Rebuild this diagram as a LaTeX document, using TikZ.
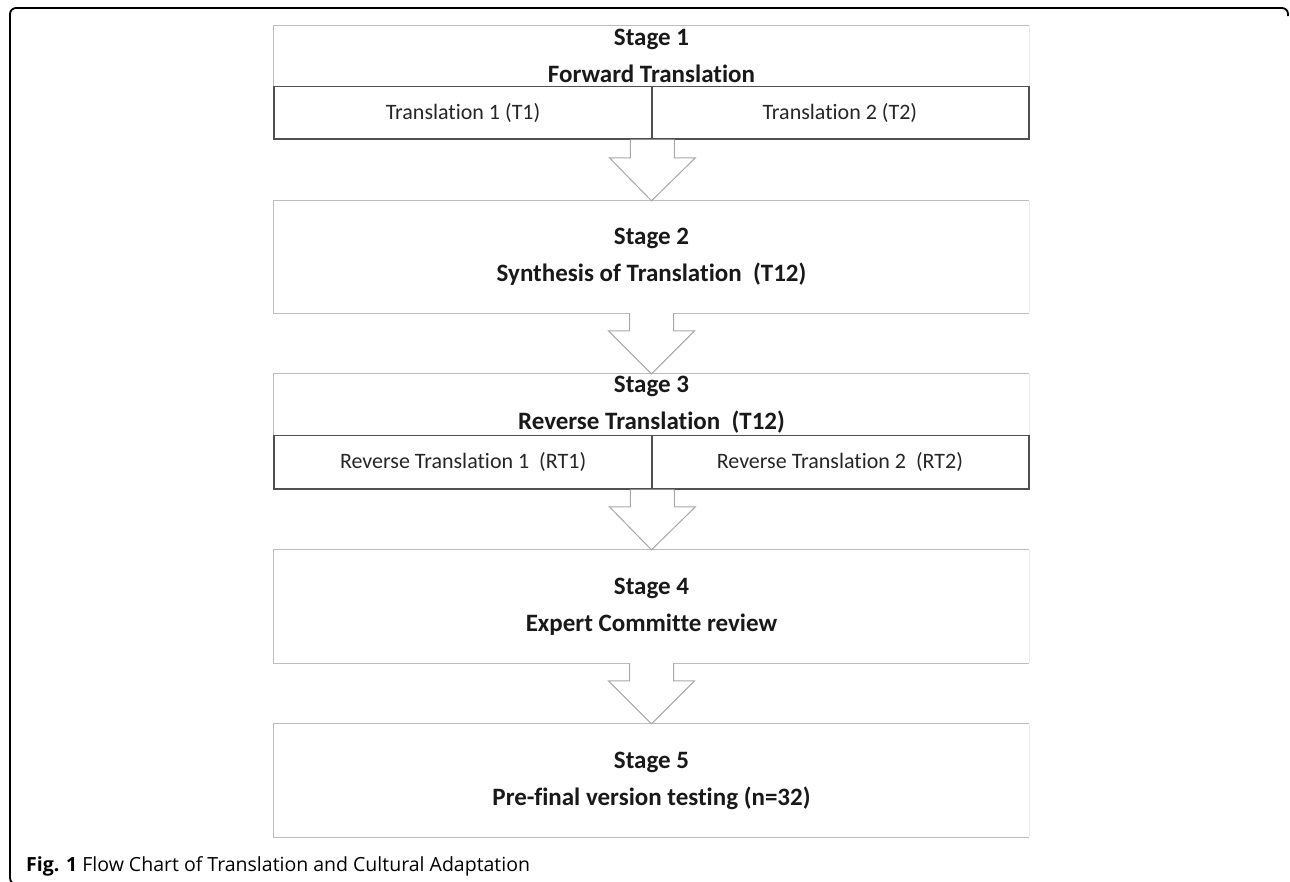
\documentclass[tikz,border=0pt]{standalone}
\usepackage{fontspec}
\setmainfont[Ligatures=NoCommon]{Carlito}
\newfontfamily\capfont{Open Sans}
\usetikzlibrary{calc}
\definecolor{boxline}{HTML}{BDBDBD}
\definecolor{arrowline}{HTML}{A8A8A8}
\definecolor{subline}{HTML}{505050}
\tikzset{
  stagebox/.style={draw=none, minimum width=755pt, inner sep=0pt, align=center,
    font=\fontsize{25}{37}\selectfont\bfseries, text=black!90},
  subbox/.style={draw=subline, line width=1.1pt, minimum width=377.5pt, minimum height=52pt,
    inner sep=0pt, font=\fontsize{22}{26}\selectfont, text=black!85},
  frameline/.style={line width=1.8pt, black, rounded corners=6pt},
}
\newcommand{\stageedges}[1]{%
  \draw[boxline, line width=1.1pt] (#1.north east) -- (#1.north west) -- (#1.south west) -- (#1.south east);
  \draw[black!8, line width=0.8pt] (#1.north east) -- (#1.south east);
}
\newcommand{\blockarr}[2]{%
  \draw[arrowline, line width=1pt, fill=white, line join=miter]
    let \p1=(#1.south), \p2=(#2.north) in
    (\x1-22pt,\y1) -- (\x1-22pt,\y2+43pt) -- (\x1-43pt,\y2+43pt) -- (\x2,\y2)
    -- (\x1+43pt,\y2+43pt) -- (\x1+22pt,\y2+43pt) -- (\x1+22pt,\y1);
}
\begin{document}
\begin{tikzpicture}[x=1pt,y=-1pt]
\useasboundingbox (0,0) rectangle (1290,881);
\fill[white] (0,0) rectangle (1290,881);
% frame
\coordinate (fbl) at (20,884);
\coordinate (fbc) at (10,884);
\coordinate (ftl) at (10,8);
\coordinate (ftr) at (1288,8);
\coordinate (fre) at (1288,16);
\draw[frameline] (fbl) -- (fbc) -- (ftl) -- (ftr) -- (fre);

% Stage 1
\node[stagebox, minimum height=60pt] (s1) at (651.5,56) {Stage 1\\Forward Translation};
\node[subbox, anchor=north west] (t1) at (s1.south west) {Translation 1 (T1)};
\node[subbox, anchor=north east] (t2) at (s1.south east) {Translation 2 (T2)};
% Stage 2
\node[stagebox, minimum height=112pt] (s2) at (651.5,257) {Stage 2\\Synthesis of Translation\ \ (T12)};
% Stage 3
\node[stagebox, minimum height=61pt] (s3) at (651.5,404.5) {Stage 3\\Reverse Translation\ \ (T12)};
\node[subbox, minimum height=53pt, anchor=north west] (rt1) at (s3.south west) {Reverse Translation 1\ \ (RT1)};
\node[subbox, minimum height=53pt, anchor=north east] (rt2) at (s3.south east) {Reverse Translation 2\ \ (RT2)};
% Stage 4
\node[stagebox, minimum height=113pt] (s4) at (651.5,606.5) {Stage 4\\Expert Committe review};
% Stage 5
\node[stagebox, minimum height=113pt] (s5) at (651.5,780.5) {Stage 5\\Pre-final version testing (n=32)};

\stageedges{s1}
\stageedges{s2}
\stageedges{s3}
\stageedges{s4}
\stageedges{s5}

% redraw subboxes on top
\draw[subline, line width=1.1pt] (t1.north west) rectangle (t2.south east);
\draw[subline, line width=1.1pt] (t1.north east) -- (t1.south east);
\draw[subline, line width=1.1pt] (rt1.north west) rectangle (rt2.south east);
\draw[subline, line width=1.1pt] (rt1.north east) -- (rt1.south east);

\node[inner sep=0pt, minimum size=0pt] (sub1) at (t1.south east) {};
\node[inner sep=0pt, minimum size=0pt] (sub3) at (rt1.south east) {};

\blockarr{sub1}{s2}
\blockarr{s2}{s3}
\blockarr{sub3}{s4}
\blockarr{s4}{s5}

% caption
\node[anchor=base west, inner sep=0pt, font=\capfont\fontsize{19.5}{23}\selectfont] (cap) at (26,871)
  {\textbf{Fig. 1} Flow Chart of Translation and Cultural Adaptation};
\end{tikzpicture}
\end{document}
